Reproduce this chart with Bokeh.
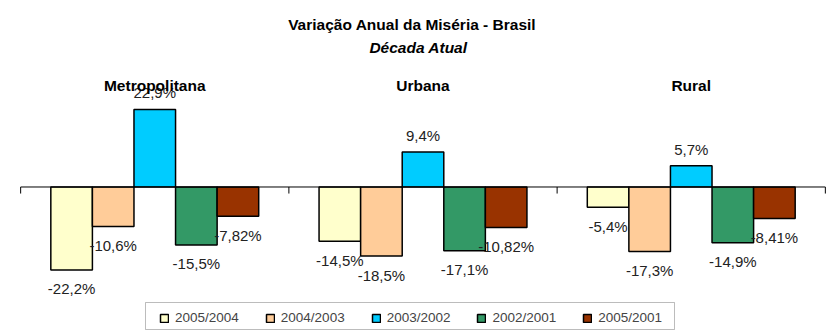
from bokeh.plotting import figure
from bokeh.models import (FactorRange, Range1d, ColumnDataSource, LabelSet, Label,
                          Legend, LegendItem, BoxAnnotation)
from bokeh.transform import dodge
from bokeh.core.properties import value
from bokeh.embed import file_html
from bokeh.resources import INLINE

# Regions (categories) and the five annual-variation series, in percent
regions = ["Metropolitana", "Urbana", "Rural"]
periods = ["2005/2004", "2004/2003", "2003/2002", "2002/2001", "2005/2001"]
var_2005_2004 = [-22.2, -14.5, -5.4]
var_2004_2003 = [-10.6, -18.5, -17.3]
var_2003_2002 = [22.9, 9.4, 5.7]
var_2002_2001 = [-15.5, -17.1, -14.9]
var_2005_2001 = [-7.82, -10.82, -8.41]
series = [var_2005_2004, var_2004_2003, var_2003_2002, var_2002_2001, var_2005_2001]
colors = ["#FFFFCC", "#FFCC99", "#00CCFF", "#339966", "#993300"]

FONT = "'Liberation Sans', Arial, sans-serif"

# The plot area of the value axis ends at AXIS_MAX; taller bars are cut there,
# and their labels sit just above the cut.
AXIS_MAX = 20.75
Y_TOP = 49.93
Y_BOTTOM = -38.42
BAR_W = 0.155
TICK_LEN = 1.75

p = figure(width=827, height=330,
           x_range=FactorRange(*regions, range_padding=0.008, range_padding_units="absolute"),
           y_range=Range1d(Y_BOTTOM, Y_TOP),
           x_axis_location=None, y_axis_location=None,
           min_border_left=18, min_border_right=0, min_border_top=0, min_border_bottom=0,
           output_backend="svg", toolbar_location=None, outline_line_color=None)
p.grid.grid_line_color = None


def pct(v):
    return f"{v}".replace(".", ",") + "%"


items = []
for k, (name, vals, color) in enumerate(zip(periods, series, colors)):
    shown = [min(v, AXIS_MAX) for v in vals]
    src = ColumnDataSource(dict(
        region=regions,
        v=vals,
        shown=shown,
        off=[16.5 if v > 0 else -19 for v in vals],
        text=[pct(v) for v in vals],
    ))
    xpos = dodge("region", (k - 2) * BAR_W, range=p.x_range)
    r = p.vbar(x=xpos, top="shown", bottom=0, width=BAR_W, source=src,
               fill_color=color, line_color="black", line_width=1.5)
    items.append(LegendItem(label=name, renderers=[r]))
    p.add_layout(LabelSet(x=xpos, y="shown", text="text", y_offset="off", source=src,
                          text_align="center", text_baseline="middle",
                          text_font=value(FONT), text_font_size="15px", text_color="#222222"))

# category axis drawn at zero, with ticks between the groups
p.segment(x0=[0], x1=[3], y0=[0], y1=[0], line_color="black", line_width=1)
p.segment(x0=[0, 1, 2, 3], x1=[0, 1, 2, 3], y0=0, y1=-TICK_LEN, line_color="black", line_width=1)

# group titles above the plot area
cat_src = ColumnDataSource(dict(region=regions, y=[AXIS_MAX] * len(regions)))
p.add_layout(LabelSet(x="region", y="y", text="region", y_offset=18, source=cat_src,
                      text_align="center", text_baseline="alphabetic",
                      text_font=value(FONT), text_font_style="bold", text_font_size="15.5px",
                      text_color="black"))

p.add_layout(Label(x=398, y=306, x_units="screen", y_units="screen",
                   text="Variação Anual da Miséria  -  Brasil", text_align="center",
                   text_baseline="alphabetic", text_font=FONT, text_font_style="bold",
                   text_font_size="15.5px", text_color="black"))
p.add_layout(Label(x=400, y=283.5, x_units="screen", y_units="screen",
                   text="Década Atual", text_align="center",
                   text_baseline="alphabetic", text_font=FONT, text_font_style="bold italic",
                   text_font_size="15.5px", text_color="black"))

p.add_layout(BoxAnnotation(left=127, right=656, bottom=1, top=28,
                           left_units="screen", right_units="screen",
                           bottom_units="screen", top_units="screen",
                           fill_alpha=0, line_color="#222222", line_width=1))

legend = Legend(items=items, orientation="horizontal", location=(141, 5),
                glyph_width=10, glyph_height=10, label_standoff=6, spacing=26,
                padding=0, margin=0, border_line_color=None, background_fill_alpha=0,
                label_text_font=FONT, label_text_font_size="13.5px", label_height=10)
p.add_layout(legend)

open("out.html", "w").write(file_html(p, INLINE))
